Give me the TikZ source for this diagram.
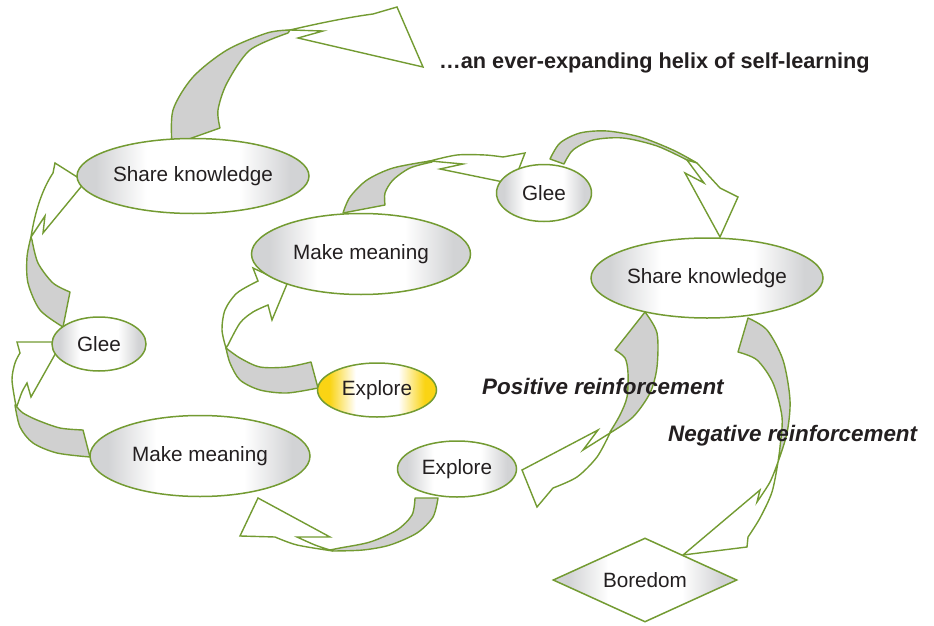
\documentclass[tikz,border=0pt]{standalone}
\usepackage{fontspec}
\setmainfont{Liberation Sans}
\usetikzlibrary{shapes.geometric}
\definecolor{lgreen}{RGB}{115,155,50}
\definecolor{bandgrey}{RGB}{208,208,208}
\definecolor{shgrey}{RGB}{210,211,213}
\definecolor{shyellow}{RGB}{250,212,20}
\definecolor{txt}{RGB}{35,31,32}
\pgfdeclarehorizontalshading{greyell}{100bp}{color(0bp)=(shgrey); color(25bp)=(shgrey); color(29bp)=(shgrey); color(40bp)=(white); color(60bp)=(white); color(71bp)=(shgrey); color(75bp)=(shgrey); color(100bp)=(shgrey)}
\pgfdeclarehorizontalshading{yellell}{100bp}{color(0bp)=(shyellow); color(25bp)=(shyellow); color(30bp)=(shyellow); color(41bp)=(white); color(59bp)=(white); color(70bp)=(shyellow); color(75bp)=(shyellow); color(100bp)=(shyellow)}
\tikzset{
  ell/.style={ellipse, draw=lgreen, line width=1.5pt, shade, shading=greyell, inner sep=0pt, text=txt, font=\fontsize{20.7}{24}\selectfont},
  band/.style={fill=bandgrey, draw=lgreen, line width=1.4pt, line join=round},
  head/.style={fill=white, draw=lgreen, line width=1.4pt, line join=miter},
  lbl/.style={anchor=west, text=txt, inner sep=0pt, font=\fontsize{21.7}{26}\selectfont\bfseries},
  lbli/.style={anchor=west, text=txt, inner sep=0pt, font=\fontsize{22.4}{26}\selectfont\bfseries\itshape},
}
\begin{document}
\begin{tikzpicture}[x=1pt,y=-1pt]
\useasboundingbox (0,0) rectangle (934,626);

% ---- block arrows ----
% top: share knowledge -> helix
\path[band] (172,145) -- plot[smooth] coordinates {(172,145) (173,110) (193,77) (227,50) (267,33) (290,30)}
  -- plot[smooth] coordinates {(288,33) (250,50) (227,83) (218,110) (220,128)} -- cycle;
\path[head] (290,30) .. controls (320,23) and (350,17) .. (373,14) -- (397,7) -- (423,67) -- (298,38) -- (323,31) -- cycle;

% left upper: glee -> share knowledge
\path[band] (63,327) -- plot[smooth] coordinates {(63,327) (40,310) (28,283) (27,257) (31,237)}
  -- plot[smooth] coordinates {(32,240) (38,263) (53,283) (70,292)} -- cycle;
\path[head] (31,237) -- (45,216) -- (43,233) -- (85,182) -- (55,163) -- (53,173)
  .. controls (45,185) and (36,205) .. (31,237) -- cycle;

% left lower: make meaning -> glee
\path[band] (90,457) -- plot[smooth] coordinates {(90,457) (57,453) (33,443) (20,427) (15,405)}
  -- plot[smooth] coordinates {(17,407) (23,413) (37,420) (60,428) (83,430)} -- cycle;
\path[head] (16,406) -- plot[smooth] coordinates {(16,406) (12,380) (15,363) (20,353)} -- (17,342) -- (62,342) -- (31,397) -- (27,383)
  -- plot[smooth] coordinates {(27,383) (22,392) (17,406)} -- cycle;

% explore (yellow) -> make meaning
\path[band] (318,388) -- plot[smooth] coordinates {(318,388) (287,393) (260,390) (240,380) (230,363) (226,348)}
  -- plot[smooth] coordinates {(226,348) (240,358) (260,367) (287,367) (311,362)} -- cycle;
\path[head] (226,348) -- plot[smooth] coordinates {(226,348) (222,330) (225,310) (237,293) (258,281)} -- (253,268) -- (287,284) -- (272,320) -- (268,305)
  -- plot[smooth] coordinates {(268,305) (253,312) (240,323) (228,345)} -- cycle;

% make meaning -> glee
\path[band] (343,213) -- plot[smooth] coordinates {(343,213) (350,197) (367,180) (393,168) (430,161)}
  -- plot[smooth] coordinates {(432,162) (410,168) (393,180) (385,193) (385,205)} -- cycle;
\path[head] (430,161) -- plot[smooth] coordinates {(430,161) (457,155) (485,155) (503,157)} -- (525,153) -- (513,184) -- (440,169) -- (463,164) -- cycle;

% glee -> share knowledge
\path[band] (550,159) -- plot[smooth] coordinates {(550,159) (560,143) (580,133) (607,131) (640,137) (673,150) (697,163)}
  -- plot[smooth] coordinates {(687,160) (657,146) (623,138) (593,140) (573,150) (564,164)} -- cycle;
\path[head] (697,163) -- (720,188) -- (738,197) -- (720,237) -- (685,173) -- (704,183) -- (687,160) -- cycle;

% explore -> make meaning (bottom)
\path[band] (438,498) -- plot[smooth] coordinates {(438,498) (433,517) (417,533) (390,545) (363,550) (333,551)}
  -- plot[smooth] coordinates {(330,550) (340,548) (370,542) (397,530) (412,515) (415,498)} -- cycle;
\path[head] (333,551) -- plot[smooth] coordinates {(333,551) (297,545) (275,537)} -- (240,536) -- (258,498) -- (330,537) -- (297,537)
  -- plot[smooth] coordinates {(297,537) (315,545) (330,550)} -- cycle;

% share knowledge -> explore (positive)
\path[band] (645,312) -- plot[smooth] coordinates {(645,312) (657,333) (657,367) (650,393) (633,417) (610,433)}
  -- plot[smooth] coordinates {(610,432) (620,415) (627,397) (628,373) (625,358) (615,350)} -- cycle;
\path[head] (610,433) -- (583,450) -- (598,430) -- (522,470) -- (537,507) -- (553,488)
  -- plot[smooth] coordinates {(553,488) (577,477) (597,457) (610,433)} -- cycle;

% share knowledge -> boredom (negative)
\path[band] (748,318) -- plot[smooth] coordinates {(748,318) (767,330) (783,360) (790,400) (787,433) (778,462)}
  -- plot[smooth] coordinates {(778,462) (780,447) (782,417) (773,383) (757,360) (738,352)} -- cycle;
\path[head] (778,462) -- plot[smooth] coordinates {(778,462) (770,482) (757,502)} -- (760,490) -- (683,555) -- (747,547) -- (748,537)
  -- plot[smooth] coordinates {(748,537) (760,518) (772,492) (778,462)} -- cycle;

% ---- nodes ----
\node[ell, minimum width=232pt, minimum height=75pt] (sk1) at (193,176) {Share knowledge};
\node[ell, minimum width=94pt, minimum height=54pt] (gl1) at (99,344) {Glee};
\node[ell, minimum width=220pt, minimum height=81pt] (mm1) at (200,456) {Make meaning};
\node[ell, minimum width=119pt, minimum height=56pt] (ex1) at (457,469) {Explore};
\node[ell, shading=yellell, minimum width=119pt, minimum height=54pt] (ex0) at (377,390) {Explore};
\node[ell, minimum width=219pt, minimum height=81pt] (mm2) at (361,254) {Make meaning};
\node[ell, minimum width=95pt, minimum height=57pt] (gl2) at (544,193) {Glee};
\node[ell, minimum width=232pt, minimum height=80pt] (sk2) at (707,278) {Share knowledge};
\node[ell, diamond, aspect=2.19, minimum width=184pt, minimum height=84pt] (bor) at (645,580) {Boredom};

% ---- labels ----
\node[lbl] (title) at (439,63) {…an ever-expanding helix of self-learning};
\node[lbli] (pos) at (482,386) {Positive reinforcement};
\node[lbli] (neg) at (668,436) {Negative reinforcement};
\end{tikzpicture}
\end{document}
